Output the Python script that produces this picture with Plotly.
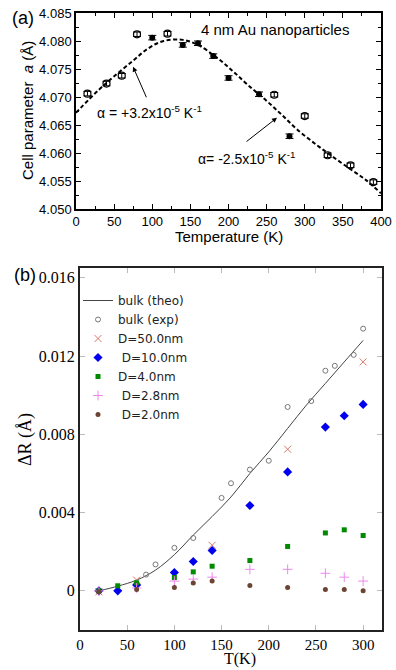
import plotly.graph_objects as go

# ---------------- Panel (a) data ----------------
T_open = [15, 40, 60, 80, 120, 260, 300, 330, 360, 390]
a_open = [4.0706, 4.0724, 4.0738, 4.0812, 4.0813, 4.0704, 4.0666, 4.0596, 4.0578, 4.0548]
err_open = [0.0004, 0.0004, 0.0004, 0.0004, 0.0004, 0.0004, 0.0004, 0.0004, 0.0004, 0.0004]

T_fill = [100, 140, 160, 180, 200, 240, 280]
a_fill = [4.0806, 4.0793, 4.0796, 4.0773, 4.0734, 4.0705, 4.0630]
err_fill = [0.0004, 0.0004, 0.0004, 0.0004, 0.0004, 0.0004, 0.0004]

T_fit = [0, 30, 50, 75, 95, 115, 140, 160, 185, 205, 225, 250, 270, 290, 315, 335, 360, 380, 400]
a_fit = [4.0672, 4.0713, 4.0737, 4.0765, 4.0787, 4.0800, 4.0802, 4.0793, 4.0770, 4.0747,
         4.0722, 4.0693, 4.0668, 4.0642, 4.0615, 4.0595, 4.0571, 4.0552, 4.0528]

xa_ticks = [0, 50, 100, 150, 200, 250, 300, 350, 400]
ya_ticks = [4.050, 4.055, 4.060, 4.065, 4.070, 4.075, 4.080, 4.085]
ya_text = ["4.050", "4.055", "4.060", "4.065", "4.070", "4.075", "4.080", "4.085"]

# arrow tips (data coords of panel a)
arrow_T = [74.8, 263.6]
arrow_a = [4.0754, 4.0663]

# ---------------- Panel (b) data ----------------
T_theo = [20, 40, 60, 80, 100, 120, 140, 160, 180, 200, 220, 240, 260, 280, 300]
R_theo = [0.0, 0.00024, 0.00055, 0.00106, 0.00185, 0.00285, 0.0038, 0.0048, 0.0060,
          0.0071, 0.0083, 0.0095, 0.0106, 0.0117, 0.0128]

T_exp = [20, 70, 80, 100, 120, 150, 160, 180, 200, 220, 245, 260, 270, 290, 300]
R_exp = [0.0, 0.00083, 0.00135, 0.0022, 0.0027, 0.00475, 0.0055, 0.0062, 0.00665,
         0.0094, 0.0097, 0.01125, 0.0115, 0.01206, 0.0134]

T_50 = [20, 60, 140, 220, 300]
R_50 = [-0.00005, 0.00055, 0.00233, 0.00724, 0.0117]

T_10 = [20, 40, 60, 100, 120, 140, 180, 220, 260, 280, 300]
R_10 = [0.0, 0.0, 0.0003, 0.00094, 0.0015, 0.00206, 0.00436, 0.00608, 0.00837, 0.00895, 0.00953]

T_4 = [20, 40, 60, 100, 120, 140, 180, 220, 260, 280, 300]
R_4 = [0.0, 0.00026, 0.00041, 0.00068, 0.00097, 0.00126, 0.00155, 0.00227, 0.00296, 0.00312, 0.00283]

T_28 = [20, 60, 100, 120, 140, 180, 220, 260, 280, 300]
R_28 = [0.0, 0.00015, 0.0005, 0.0006, 0.0007, 0.0011, 0.0011, 0.0009, 0.0007, 0.0005]

T_20 = [20, 60, 100, 120, 140, 180, 220, 260, 280, 300]
R_20 = [-0.00005, 0.00007, 0.00017, 0.0004, 0.0005, 0.00027, 0.00017, 0.00007, 0.00007, 0.0]

xb_ticks = [0, 50, 100, 150, 200, 250, 300]
yb_ticks = [0, 0.004, 0.008, 0.012, 0.016]
yb_text = ["0", "0.004", "0.008", "0.012", "0.016"]

fig = go.Figure()

# Panel (a)
fig.add_trace(go.Scatter(x=T_fit, y=a_fit, mode="lines",
                         line=dict(color="black", width=2, dash="4px,2.5px"),
                         line_shape="spline", showlegend=False, xaxis="x", yaxis="y"))
fig.add_trace(go.Scatter(x=T_open, y=a_open, mode="markers",
                         error_y=dict(type="data", array=err_open, color="black", thickness=1, width=4),
                         marker=dict(symbol="circle-open", size=7, color="black", line=dict(width=1.2)),
                         showlegend=False, xaxis="x", yaxis="y"))
fig.add_trace(go.Scatter(x=T_fill, y=a_fill, mode="markers",
                         error_y=dict(type="data", array=err_fill, color="black", thickness=1, width=4),
                         marker=dict(symbol="circle", size=6, color="black"),
                         showlegend=False, xaxis="x", yaxis="y"))

# Panel (b)
fig.add_trace(go.Scatter(x=T_theo, y=R_theo, mode="lines", name="bulk (theo)",
                         line=dict(color="#444444", width=1), line_shape="spline",
                         xaxis="x2", yaxis="y2"))
fig.add_trace(go.Scatter(x=T_exp, y=R_exp, mode="markers", name="bulk (exp)",
                         marker=dict(symbol="circle-open", size=5, color="#777777", line=dict(width=1)),
                         xaxis="x2", yaxis="y2"))
fig.add_trace(go.Scatter(x=T_50, y=R_50, mode="markers", name="D=50.0nm",
                         marker=dict(symbol="x-thin-open", size=7, color="#d9786a", line=dict(width=1, color="#d9786a")),
                         xaxis="x2", yaxis="y2"))
fig.add_trace(go.Scatter(x=T_10, y=R_10, mode="markers", name=" D=10.0nm",
                         marker=dict(symbol="diamond", size=7, color="#0000ee"),
                         xaxis="x2", yaxis="y2"))
fig.add_trace(go.Scatter(x=T_4, y=R_4, mode="markers", name="D=4.0nm",
                         marker=dict(symbol="square", size=5, color="#008a00"),
                         xaxis="x2", yaxis="y2"))
fig.add_trace(go.Scatter(x=T_28, y=R_28, mode="markers", name=" D=2.8nm",
                         marker=dict(symbol="cross-thin-open", size=7, color="#ee88ee", line=dict(width=1, color="#ee88ee")),
                         xaxis="x2", yaxis="y2"))
fig.add_trace(go.Scatter(x=T_20, y=R_20, mode="markers", name=" D=2.0nm",
                         marker=dict(symbol="circle", size=5, color="#6b4434"),
                         xaxis="x2", yaxis="y2"))

W, H = 396, 670
sans = "Liberation Sans, Arial, sans-serif"
serif = "Liberation Serif, Times New Roman, serif"

fig.update_layout(
    width=W, height=H, margin=dict(l=0, r=0, t=0, b=0, autoexpand=False),
    paper_bgcolor="white", plot_bgcolor="white",
    showlegend=True,
    legend=dict(x=78 / W, y=1 - 286 / H, xanchor="left", yanchor="top",
                bgcolor="rgba(0,0,0,0)", font=dict(family="DejaVu Sans", size=12, color="#222"),
                tracegroupgap=0, itemwidth=30),
    xaxis=dict(domain=[76 / W, 381 / W], range=[0, 400], tickvals=xa_ticks, automargin=False,
               ticks="inside", ticklen=5, tickwidth=1.2, tickcolor="black",
               minor=dict(ticks="inside", ticklen=3, dtick=25, tickcolor="black"),
               showline=True, linecolor="black", linewidth=1.5, mirror="ticks",
               showgrid=False, zeroline=False,
               tickfont=dict(family=sans, size=13, color="black"), anchor="y"),
    yaxis=dict(domain=[1 - 209 / H, 1 - 13 / H], range=[4.050, 4.085], tickvals=ya_ticks, ticktext=ya_text,
               automargin=False,
               ticks="inside", ticklen=5, tickwidth=1.2, tickcolor="black",
               minor=dict(ticks="inside", ticklen=3, dtick=0.0025, tickcolor="black"),
               showline=True, linecolor="black", linewidth=1.5, mirror="ticks",
               showgrid=False, zeroline=False,
               tickfont=dict(family=sans, size=13, color="black"), anchor="x"),
    xaxis2=dict(domain=[80 / W, 382 / W], range=[0, 320], tickvals=xb_ticks, automargin=False,
                ticks="inside", ticklen=5, tickwidth=1, tickcolor="#bbbbbb",
                showline=True, linecolor="#222222", linewidth=2, mirror="ticks",
                showgrid=False, zeroline=False,
                tickfont=dict(family=serif, size=15, color="black"), anchor="y2"),
    yaxis2=dict(domain=[1 - 630 / H, 1 - 268 / H], range=[-0.002, 0.0165], tickvals=yb_ticks, ticktext=yb_text,
                automargin=False,
                ticks="inside", ticklen=5, tickwidth=1, tickcolor="#bbbbbb",
                showline=True, linecolor="#222222", linewidth=2, mirror="ticks",
                showgrid=False, zeroline=False,
                tickfont=dict(family=serif, size=16, color="black"), anchor="x2"),
    annotations=[
        dict(text="(a)", x=10 / W, y=1 - 18 / H, xref="paper", yref="paper", xanchor="left", yanchor="middle",
             showarrow=False, font=dict(family=sans, size=18, color="black")),
        dict(text="(b)", x=12 / W, y=1 - 275 / H, xref="paper", yref="paper", xanchor="left", yanchor="middle",
             showarrow=False, font=dict(family=sans, size=18, color="black")),
        dict(text="4 nm Au nanoparticles", x=275 / W, y=1 - 29 / H, xref="paper", yref="paper",
             xanchor="center", yanchor="middle", showarrow=False, font=dict(family=sans, size=15, color="black")),
        dict(text="Cell parameter  <i>a</i> (Å)", x=27 / W, y=1 - 111 / H, xref="paper", yref="paper",
             textangle=-90, xanchor="center", yanchor="middle", showarrow=False,
             font=dict(family=sans, size=15, color="black")),
        dict(text="Temperature (K)", x=229 / W, y=1 - 237 / H, xref="paper", yref="paper",
             xanchor="center", yanchor="middle", showarrow=False, font=dict(family=sans, size=15, color="black")),
        dict(text="ΔR (Å)", x=25 / W, y=1 - 440 / H, xref="paper", yref="paper",
             textangle=-90, xanchor="center", yanchor="middle", showarrow=False,
             font=dict(family=serif, size=18, color="black")),
        dict(text="T(K)", x=240 / W, y=1 - 659 / H, xref="paper", yref="paper",
             xanchor="center", yanchor="middle", showarrow=False, font=dict(family=serif, size=16, color="black")),
        dict(text="α = +3.2x10<sup>-5</sup> K<sup>-1</sup>", x=149 / W, y=1 - 112 / H, xref="paper", yref="paper",
             xanchor="center", yanchor="middle", showarrow=False, font=dict(family=sans, size=14, color="black")),
        dict(text="α= -2.5x10<sup>-5</sup> K<sup>-1</sup>", x=247 / W, y=1 - 158 / H, xref="paper", yref="paper",
             xanchor="center", yanchor="middle", showarrow=False, font=dict(family=sans, size=14, color="black")),
        dict(text="", x=arrow_T[0], y=arrow_a[0], xref="x", yref="y",
             ax=14, ay=32, showarrow=True, arrowhead=2, arrowsize=1, arrowwidth=1, arrowcolor="black"),
        dict(text="", x=arrow_T[1], y=arrow_a[1], xref="x", yref="y",
             ax=-32, ay=25, showarrow=True, arrowhead=2, arrowsize=1, arrowwidth=1, arrowcolor="black"),
    ],
)

fig.write_html("out.html", config={"displayModeBar": False},
               post_script="document.body.style.margin='0';document.body.style.overflow='hidden';")
